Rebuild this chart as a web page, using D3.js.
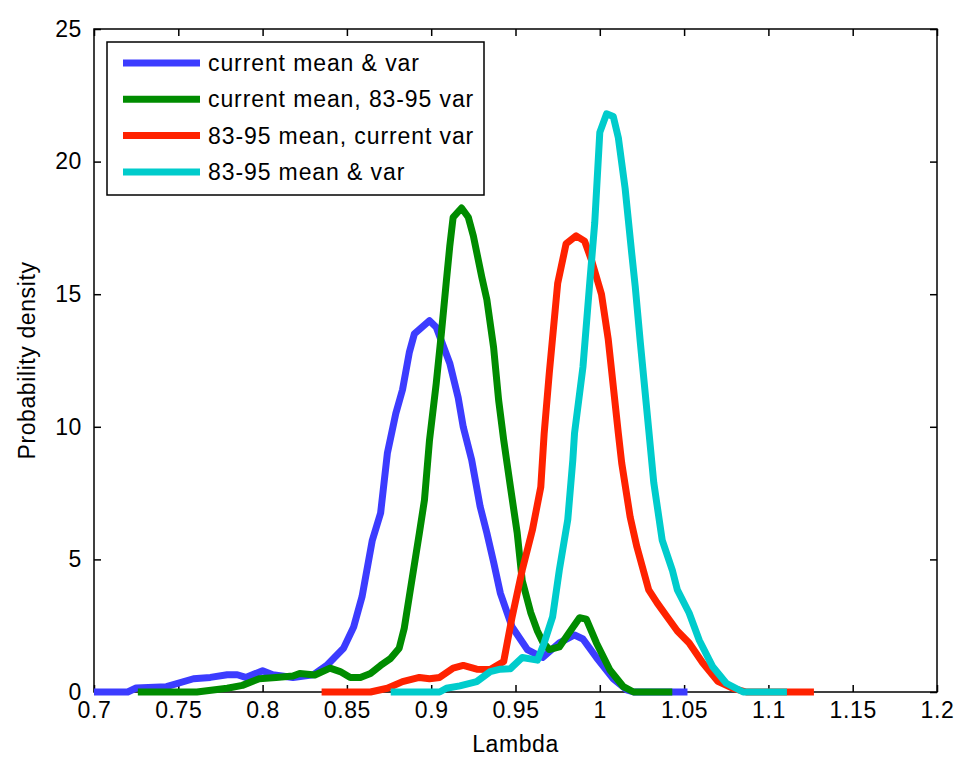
<!DOCTYPE html>
<html>
<head>
<meta charset="utf-8">
<script src="https://cdn.jsdelivr.net/npm/d3@7"></script>
<style>
  body { margin: 0; background: #fff; }
  text { font-family: "Liberation Sans", Arial, sans-serif; fill: #000; }
</style>
</head>
<body>
<svg id="chart" width="960" height="762"></svg>
<script>
// series: lambda values and probability density
var blueX = [0.7, 0.72, 0.725, 0.743, 0.759, 0.769, 0.779, 0.785, 0.79, 0.8, 0.806, 0.818, 0.83, 0.838, 0.848, 0.854, 0.859, 0.865, 0.87, 0.874, 0.879, 0.883, 0.887, 0.89, 0.899, 0.903, 0.911, 0.916, 0.919, 0.924, 0.929, 0.933, 0.937, 0.941, 0.948, 0.957, 0.966, 0.976, 0.985, 0.99, 0.998, 1.008, 1.016, 1.02, 1.052];
var blueY = [0, 0, 0.15, 0.2, 0.5, 0.55, 0.65, 0.65, 0.55, 0.8, 0.65, 0.55, 0.65, 1.0, 1.65, 2.45, 3.6, 5.7, 6.75, 9.0, 10.5, 11.4, 12.8, 13.5, 14.0, 13.75, 12.4, 11.1, 10.0, 8.75, 7.0, 6.0, 4.9, 3.73, 2.45, 1.6, 1.3, 1.85, 2.15, 2.0, 1.3, 0.5, 0.08, 0, 0];

var greenX = [0.726, 0.761, 0.779, 0.788, 0.798, 0.808, 0.818, 0.822, 0.831, 0.84, 0.846, 0.852, 0.858, 0.864, 0.87, 0.876, 0.881, 0.884, 0.887, 0.893, 0.896, 0.899, 0.903, 0.906, 0.909, 0.911, 0.913, 0.918, 0.922, 0.925, 0.93, 0.933, 0.937, 0.94, 0.943, 0.947, 0.951, 0.954, 0.959, 0.963, 0.966, 0.97, 0.976, 0.982, 0.988, 0.992, 0.998, 1.006, 1.014, 1.02, 1.043];
var greenY = [0, 0, 0.14, 0.25, 0.5, 0.55, 0.6, 0.7, 0.64, 0.9, 0.77, 0.55, 0.55, 0.7, 1.0, 1.27, 1.65, 2.4, 3.6, 6.0, 7.24, 9.5, 11.65, 13.5, 15.5, 16.8, 17.9, 18.25, 17.9, 17.2, 15.65, 14.8, 13.0, 11.0, 9.5, 7.73, 6.0, 4.2, 3.0, 2.3, 1.9, 1.6, 1.7, 2.25, 2.8, 2.75, 1.85, 0.83, 0.2, 0, 0];

var redX = [0.835, 0.864, 0.874, 0.883, 0.893, 0.899, 0.905, 0.913, 0.919, 0.927, 0.935, 0.943, 0.948, 0.954, 0.96, 0.965, 0.967, 0.97, 0.975, 0.98, 0.986, 0.991, 0.995, 1.001, 1.005, 1.011, 1.013, 1.018, 1.022, 1.029, 1.034, 1.04, 1.046, 1.053, 1.061, 1.07, 1.079, 1.087, 1.127];
var redY = [0, 0, 0.14, 0.39, 0.55, 0.5, 0.55, 0.9, 1.0, 0.86, 0.85, 1.15, 2.83, 4.6, 6.1, 7.73, 9.75, 12.0, 15.4, 16.9, 17.2, 17.0, 16.3, 15.0, 13.3, 9.75, 8.63, 6.6, 5.47, 3.85, 3.36, 2.83, 2.3, 1.85, 1.1, 0.4, 0.14, 0, 0];

var cyanX = [0.876, 0.905, 0.909, 0.917, 0.927, 0.935, 0.941, 0.947, 0.954, 0.963, 0.967, 0.972, 0.976, 0.981, 0.984, 0.985, 0.99, 0.994, 0.997, 1.0, 1.004, 1.008, 1.011, 1.015, 1.019, 1.021, 1.024, 1.029, 1.032, 1.037, 1.043, 1.046, 1.053, 1.059, 1.067, 1.075, 1.085, 1.111];
var cyanY = [0, 0, 0.14, 0.23, 0.39, 0.77, 0.86, 0.88, 1.3, 1.2, 1.85, 2.83, 4.6, 6.5, 8.75, 9.75, 12.25, 15.4, 17.7, 21.1, 21.8, 21.7, 20.9, 19.0, 16.5, 15.3, 13.2, 9.9, 7.9, 5.73, 4.6, 3.85, 2.98, 1.95, 0.95, 0.33, 0, 0];

var seriesNames = ["current mean & var", "current mean, 83-95 var", "83-95 mean, current var", "83-95 mean & var"];
var seriesColours = ["#3c3cff", "#008c00", "#ff2200", "#00cccc"];

var xTicks = [0.7, 0.75, 0.8, 0.85, 0.9, 0.95, 1, 1.05, 1.1, 1.15, 1.2];
var yTicks = [0, 5, 10, 15, 20, 25];

var seriesX = [blueX, greenX, redX, cyanX];
var seriesY = [blueY, greenY, redY, cyanY];

// plot box
var pLeft = 94, pRight = 937, pTop = 29, pBottom = 692;

var svg = d3.select("#chart");

var x = d3.scaleLinear().domain([0.7, 1.2]).range([pLeft, pRight]);
var y = d3.scaleLinear().domain([0, 25]).range([pBottom, pTop]);

// axes with inward ticks, mirrored on top and right
var tickLen = 7;
svg.append("g")
  .attr("transform", "translate(0," + pBottom + ")")
  .call(d3.axisBottom(x).tickValues(xTicks).tickSizeInner(-tickLen).tickSizeOuter(0).tickPadding(10)
    .tickFormat(function(d) { return String(+d.toFixed(2)); }));
svg.append("g")
  .attr("transform", "translate(0," + pTop + ")")
  .call(d3.axisTop(x).tickValues(xTicks).tickSizeInner(-tickLen).tickSizeOuter(0).tickFormat(""));
svg.append("g")
  .attr("transform", "translate(" + pLeft + ",0)")
  .call(d3.axisLeft(y).tickValues(yTicks).tickSizeInner(-tickLen).tickSizeOuter(0).tickPadding(12));
svg.append("g")
  .attr("transform", "translate(" + pRight + ",0)")
  .call(d3.axisRight(y).tickValues(yTicks).tickSizeInner(-tickLen).tickSizeOuter(0).tickFormat(""));

svg.selectAll(".domain").remove();
svg.selectAll(".tick line").attr("stroke", "#000").attr("stroke-width", 1.5);
svg.selectAll(".tick text")
  .style("font-size", "23px")
  .style("letter-spacing", "0.6px")
  .attr("fill", "#000")
  .style("font-family", "'Liberation Sans', Arial, sans-serif");

svg.append("rect")
  .attr("x", pLeft).attr("y", pTop)
  .attr("width", pRight - pLeft).attr("height", pBottom - pTop)
  .attr("fill", "none").attr("stroke", "#000").attr("stroke-width", 1.5);

// curves
var line = d3.line()
  .x(function(d) { return x(d[0]); })
  .y(function(d) { return y(d[1]); });

seriesX.forEach(function(xs, i) {
  var pts = xs.map(function(v, j) { return [v, seriesY[i][j]]; });
  svg.append("path")
    .datum(pts)
    .attr("d", line)
    .attr("fill", "none")
    .attr("stroke", seriesColours[i])
    .attr("stroke-width", 7)
    .attr("stroke-linejoin", "round")
    .attr("stroke-linecap", "butt");
});

// axis labels
svg.append("text")
  .attr("x", (pLeft + pRight) / 2)
  .attr("y", 752)
  .attr("text-anchor", "middle")
  .style("font-size", "23px")
  .style("letter-spacing", "0.6px")
  .text("Lambda");

svg.append("text")
  .attr("transform", "translate(35," + ((pTop + pBottom) / 2) + ") rotate(-90)")
  .attr("text-anchor", "middle")
  .style("font-size", "23px")
  .style("letter-spacing", "0.6px")
  .text("Probability density");

// legend
var legend = svg.append("g");
legend.append("rect")
  .attr("x", 107).attr("y", 42)
  .attr("width", 377).attr("height", 153)
  .attr("fill", "#fff").attr("stroke", "#000").attr("stroke-width", 1.5);

var legendG = legend.selectAll(".legend")
  .data(seriesNames)
  .enter().append("g")
  .attr("class", "legend")
  .attr("transform", function(d, i) { return "translate(0," + (63 + i * 36.3) + ")"; });

legendG.append("line")
  .attr("x1", 123).attr("x2", 200)
  .attr("y1", 0).attr("y2", 0)
  .attr("stroke", function(d, i) { return seriesColours[i]; })
  .attr("stroke-width", 7);

legendG.append("text")
  .attr("x", 208)
  .attr("y", 8)
  .style("font-size", "23px")
  .style("letter-spacing", "0.9px")
  .text(function(d) { return d; });
</script>
</body>
</html>
